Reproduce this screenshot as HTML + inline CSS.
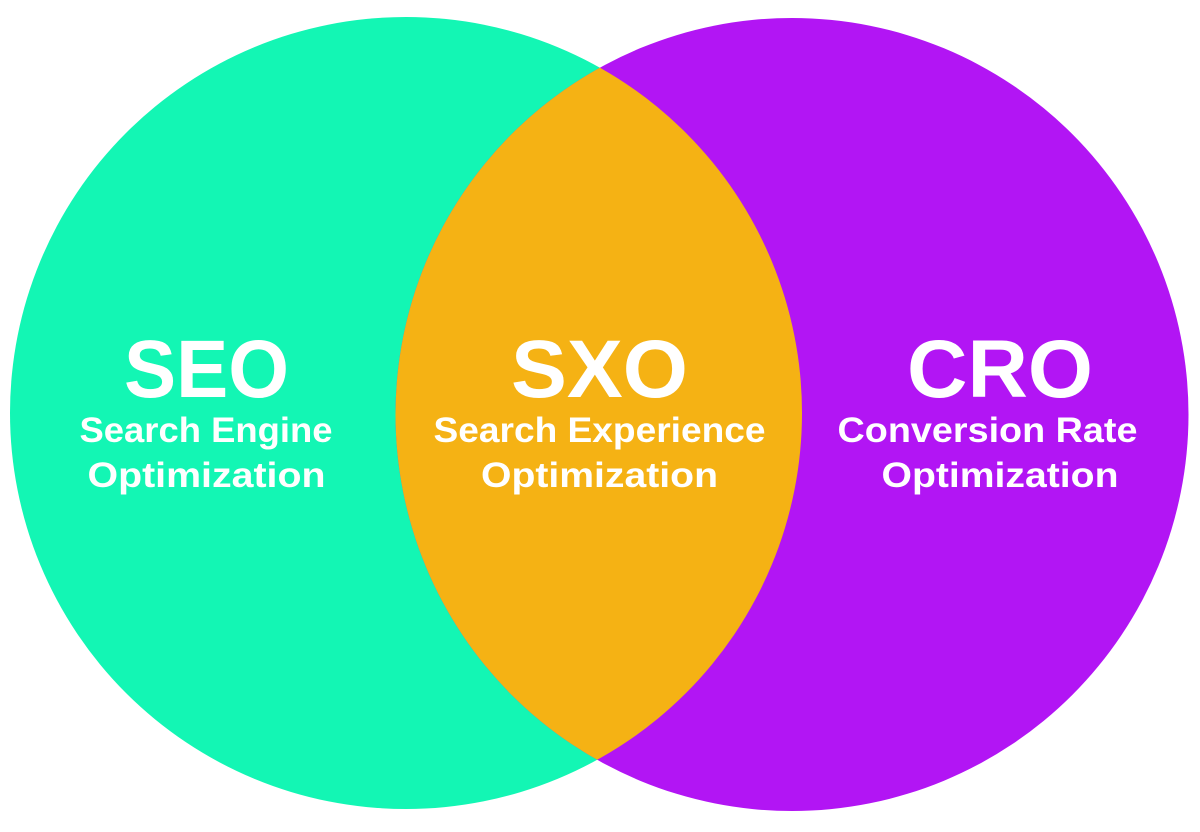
<!DOCTYPE html>
<html>
<head>
<meta charset="utf-8">
<style>
  html, body { margin: 0; padding: 0; background: #ffffff; }
  body { width: 1200px; height: 832px; overflow: hidden; }
  svg { display: block; }
  text { font-family: "Liberation Sans", "DejaVu Sans", sans-serif; font-weight: bold; fill: #ffffff; }
</style>
</head>
<body>
<svg width="1200" height="832" viewBox="0 0 1200 832" xmlns="http://www.w3.org/2000/svg">
  <defs>
    <clipPath id="leftClip">
      <circle cx="406" cy="413" r="396"/>
    </clipPath>
  </defs>
  <rect x="0" y="0" width="1200" height="832" fill="#ffffff"/>
  <circle cx="406" cy="413" r="396" fill="#13F6B4"/>
  <circle cx="792" cy="414.5" r="396.5" fill="#B215F4"/>
  <circle cx="792" cy="414.5" r="396.5" fill="#F5B214" clip-path="url(#leftClip)"/>

  <!-- SEO -->
  <text x="206.5" y="397" font-size="82" text-anchor="middle" textLength="165" lengthAdjust="spacingAndGlyphs">SEO</text>
  <text x="206" y="442" font-size="35" text-anchor="middle" textLength="253" lengthAdjust="spacingAndGlyphs">Search Engine</text>
  <text x="206.5" y="487" font-size="35" text-anchor="middle" textLength="238" lengthAdjust="spacingAndGlyphs">Optimization</text>

  <!-- SXO -->
  <text x="599.5" y="397" font-size="82" text-anchor="middle" textLength="177" lengthAdjust="spacingAndGlyphs">SXO</text>
  <text x="599.5" y="442" font-size="35" text-anchor="middle" textLength="332" lengthAdjust="spacingAndGlyphs">Search Experience</text>
  <text x="599.5" y="487" font-size="35" text-anchor="middle" textLength="237" lengthAdjust="spacingAndGlyphs">Optimization</text>

  <!-- CRO -->
  <text x="1000" y="397" font-size="82" text-anchor="middle" textLength="186" lengthAdjust="spacingAndGlyphs">CRO</text>
  <text x="987.5" y="442" font-size="35" text-anchor="middle" textLength="300" lengthAdjust="spacingAndGlyphs">Conversion Rate</text>
  <text x="1000" y="487" font-size="35" text-anchor="middle" textLength="237" lengthAdjust="spacingAndGlyphs">Optimization</text>
</svg>
</body>
</html>
